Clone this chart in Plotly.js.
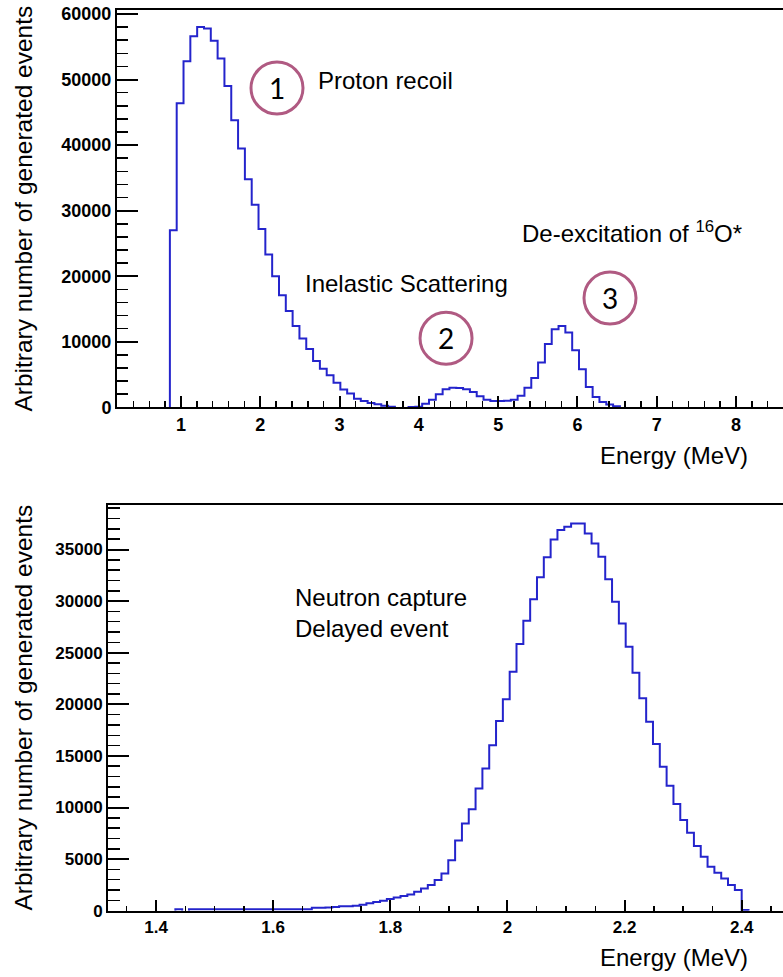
<!DOCTYPE html>
<html>
<head>
<meta charset="utf-8">
<script src="https://cdn.plot.ly/plotly-3.0.1.min.js"></script>
<style>html,body{margin:0;padding:0;background:#fff;}#chart{width:783px;height:977px;}</style>
</head>
<body>
<div id="chart"></div>
<script>
// ---- Data: top histogram (energy deposition, 100 bins of 0.086 MeV from 0) ----
const topBinStart = 0;
const topBinWidth = 0.086;
const topCounts = [
  0, 0, 0, 0, 0, 0, 0, 0, 0, 0,
  27000, 46400, 52800, 56600, 58000, 57800, 55900, 53200, 49000, 43800,
  39500, 34800, 30900, 27200, 23300, 20000, 17100, 14700, 12400, 10500,
  8900, 7050, 5900, 4900, 3750, 2700, 2100, 1320, 970, 660,
  460, 250, 100, 0, 0, 60, 100, 560, 1170, 1980,
  2750, 3000, 2950, 2750, 2340, 1680, 1170, 970, 960, 1000,
  1170, 1750, 3000, 4480, 6820, 9650, 11900, 12400, 11400, 8700,
  5800, 3100, 1580, 810, 410, 150, 0, 0, 0, 0,
  0, 0, 0, 0, 0, 0, 0, 0, 0, 0,
  0, 0, 0, 0, 0, 0, 0, 0, 0, 0
];

// ---- Data: bottom histogram (neutron capture, bins of 0.01165 MeV from 1.433) ----
const bottomBinStart = 1.433;
const bottomBinWidth = 0.01165;
const bottomCounts = [
  130, 0, 130, 130, 130, 130, 130, 130, 130, 130,
  130, 130, 130, 130, 130, 130, 130, 130, 130, 130,
  290, 290, 300, 355, 420, 440, 480, 580, 710, 840,
  970, 1130, 1290, 1420, 1580, 1840, 2160, 2490, 2970, 3600,
  4900, 6800, 8460, 9820, 11850, 13790, 16020, 18380, 20480, 23160,
  25840, 28100, 30170, 32300, 34240, 35980, 36890, 37210, 37530, 37530,
  36560, 35590, 34300, 32110, 29940, 27840, 25580, 23060, 20580, 18310,
  16150, 13950, 12110, 10340, 8790, 7560, 6270, 5230, 4260, 3680,
  3130, 2490, 2000, 60
];

// ---- Text ----
const yTitle = "Arbitrary number of generated events";
const xTitle = "Energy (MeV)";
const labelProton = "Proton recoil";
const labelInelastic = "Inelastic Scattering";
const labelDeexc = "De-excitation of <sup>16</sup>O*";
const labelNeutron = "Neutron capture<br>Delayed event";
const circleLabels = ["1", "2", "3"];
const circleCenters = [[2.211, 48710], [4.343, 10530], [6.411, 16670]];

// Build a step outline (ROOT style): zero bins are not drawn.
function stepOutline(start, width, counts) {
  const xs = [], ys = [];
  let prevNonZero = false;
  for (let i = 0; i < counts.length; i++) {
    const e = start + i * width;
    const v = counts[i];
    if (v === 0) {
      if (prevNonZero) { xs.push(e, null); ys.push(0, null); }
      prevNonZero = false;
      continue;
    }
    if (!prevNonZero) { xs.push(e); ys.push(0); }
    xs.push(e); ys.push(v);
    prevNonZero = true;
  }
  if (prevNonZero) {
    const eEnd = start + counts.length * width;
    xs.push(eEnd, eEnd); ys.push(counts[counts.length - 1], 0);
  }
  return {xs, ys};
}

const topStep = stepOutline(topBinStart, topBinWidth, topCounts);
const botStep = stepOutline(bottomBinStart, bottomBinWidth, bottomCounts);

const histColor = '#2424cc';
const traces = [
  {x: topStep.xs, y: topStep.ys, type: 'scatter', mode: 'lines', line: {shape: 'hv', color: histColor, width: 2},
   connectgaps: false, xaxis: 'x', yaxis: 'y', hoverinfo: 'skip'},
  {x: botStep.xs, y: botStep.ys, type: 'scatter', mode: 'lines', line: {shape: 'hv', color: histColor, width: 2},
   connectgaps: false, xaxis: 'x2', yaxis: 'y2', hoverinfo: 'skip'}
];

const FONT = 'Liberation Sans, Arial, Helvetica, sans-serif';
const W = 783, H = 977;
function axisCommon() {
  return {
    showline: true, linecolor: '#000', linewidth: 2,
    ticks: 'inside', tickcolor: '#000', tickwidth: 2,
    showgrid: false, zeroline: false, automargin: false, fixedrange: true
  };
}

const layout = {
  width: W, height: H,
  margin: {l: 0, r: 0, t: 0, b: 0},
  paper_bgcolor: '#fff', plot_bgcolor: '#fff',
  showlegend: false,
  font: {family: FONT, color: '#000'},
  xaxis: Object.assign(axisCommon(), {
    domain: [117 / W, 1], range: [0.193, 8.593], anchor: 'y', mirror: true,
    dtick: 1, tick0: 0, ticklen: 11,
    minor: {ticks: 'inside', dtick: 0.2, ticklen: 6, tickwidth: 1.5, tickcolor: '#000', showgrid: false},
    tickfont: {family: FONT, size: 18, weight: 'bold', color: '#000'}
  }),
  yaxis: Object.assign(axisCommon(), {
    domain: [1 - 407.3 / H, 1 - 10 / H], range: [0, 60610], anchor: 'x', mirror: false,
    dtick: 10000, tick0: 0, ticklen: 21, tickformat: 'd',
    minor: {ticks: 'inside', dtick: 2000, ticklen: 11, tickwidth: 1.5, tickcolor: '#000', showgrid: false},
    tickfont: {family: FONT, size: 18, weight: 'bold', color: '#000'},
    title: {text: yTitle, font: {family: FONT, size: 24.5, color: '#000'}, standoff: 22}
  }),
  xaxis2: Object.assign(axisCommon(), {
    domain: [108 / W, 1], range: [1.318, 2.4705], anchor: 'y2', mirror: true,
    dtick: 0.2, tick0: 0, ticklen: 11,
    minor: {ticks: 'inside', dtick: 0.05, ticklen: 5, tickwidth: 1.5, tickcolor: '#000', showgrid: false},
    tickfont: {family: FONT, size: 17, weight: 'bold', color: '#000'}
  }),
  yaxis2: Object.assign(axisCommon(), {
    domain: [1 - 910.7 / H, 1 - 504.7 / H], range: [0, 39341], anchor: 'x2', mirror: false,
    dtick: 5000, tick0: 0, ticklen: 21, tickformat: 'd',
    minor: {ticks: 'inside', dtick: 1000, ticklen: 12, tickwidth: 1.5, tickcolor: '#000', showgrid: false},
    tickfont: {family: FONT, size: 17, weight: 'bold', color: '#000'},
    title: {text: yTitle, font: {family: FONT, size: 24.5, color: '#000'}, standoff: 16}
  }),
  annotations: [
    {text: labelProton, xref: 'paper', yref: 'paper', x: 316 / W, y: 1 - 80 / H, xanchor: 'left', yanchor: 'middle', showarrow: false, font: {family: FONT, size: 24, color: '#000'}},
    {text: labelInelastic, xref: 'paper', yref: 'paper', x: 303 / W, y: 1 - 284 / H, xanchor: 'left', yanchor: 'middle', showarrow: false, font: {family: FONT, size: 24, color: '#000'}},
    {text: labelDeexc, xref: 'paper', yref: 'paper', x: 520 / W, y: 1 - 232 / H, xanchor: 'left', yanchor: 'middle', showarrow: false, font: {family: FONT, size: 24, color: '#000'}},
    {text: labelNeutron, xref: 'paper', yref: 'paper', x: 293 / W, y: 1 - 613 / H, xanchor: 'left', yanchor: 'middle', align: 'left', showarrow: false, font: {family: FONT, size: 24, color: '#000'}},
    {text: xTitle, xref: 'paper', yref: 'paper', x: 750 / W, y: 1 - 455 / H, xanchor: 'right', yanchor: 'middle', showarrow: false, font: {family: FONT, size: 24, color: '#000'}},
    {text: xTitle, xref: 'paper', yref: 'paper', x: 750 / W, y: 1 - 957 / H, xanchor: 'right', yanchor: 'middle', showarrow: false, font: {family: FONT, size: 24, color: '#000'}}
  ].concat(circleLabels.map((t, i) => ({
    text: t, xref: 'x', yref: 'y', x: circleCenters[i][0], y: circleCenters[i][1],
    xanchor: 'center', yanchor: 'middle', showarrow: false,
    font: {family: 'Lato, Open Sans, sans-serif', size: 28, color: '#000'}
  }))),
  shapes: circleCenters.map(c => ({
    type: 'circle', xref: 'x', yref: 'y', xsizemode: 'pixel', ysizemode: 'pixel',
    xanchor: c[0], yanchor: c[1], x0: -26, x1: 26, y0: -26, y1: 26,
    line: {color: '#b05a82', width: 3}, fillcolor: 'rgba(0,0,0,0)'
  }))
};

Plotly.newPlot('chart', traces, layout, {staticPlot: true, displayModeBar: false});
</script>
</body>
</html>
